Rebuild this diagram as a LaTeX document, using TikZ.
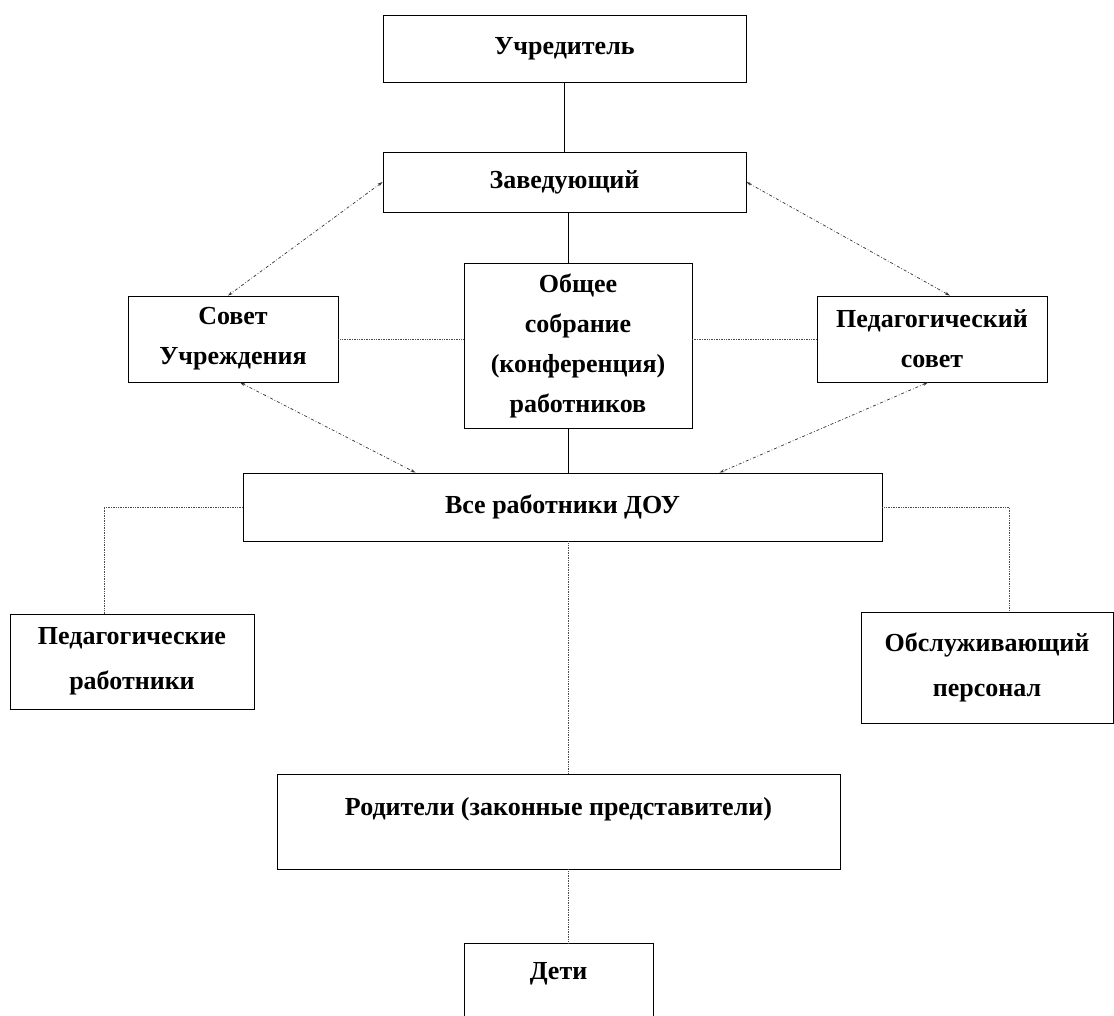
\documentclass[tikz,border=0pt]{standalone}
\usepackage{fontspec}
\setmainfont{Liberation Serif}
\usetikzlibrary{arrows.meta}
\begin{document}
\begin{tikzpicture}[x=1pt,y=-1pt,
  box/.style={draw,line width=0.8pt,align=center,inner sep=0pt,
    font=\bfseries\fontsize{26}{40}\selectfont},
  solidline/.style={line width=0.8pt},
  dotline/.style={line width=0.7pt,densely dotted,black!70},
  dashline/.style={line width=0.7pt,dash dot,black!80,
    {Stealth[length=5pt,width=3pt]}-{Stealth[length=5pt,width=3pt]}}]
\useasboundingbox (0,0) rectangle (1114,1015);
\coordinate (spine) at (568,0);
\node[box,minimum width=363,minimum height=67] (uchr) at (564.5,49) {Учредитель};
\node[box,minimum width=363,minimum height=60] (zav) at (564.5,182) {Заведующий};
\node[box,minimum width=210,minimum height=86] (sovet) at (233,339) {Совет\\Учреждения};
\node[box,minimum width=228,minimum height=165] (obsh) at (578,345.5) {Общее\\собрание\\(конференция)\\работников};
\node[box,minimum width=230,minimum height=86] (pedsov) at (932,339) {Педагогический\\совет};
\node[box,minimum width=639,minimum height=68] (vse) at (562.5,507) {Все работники ДОУ};
\node[box,minimum width=244,minimum height=95,font=\bfseries\fontsize{26}{45}\selectfont] (pedrab) at (132,661.5) {Педагогические\\работники};
\node[box,minimum width=252,minimum height=111,font=\bfseries\fontsize{26}{45}\selectfont] (obsl) at (987,667.5) {Обслуживающий\\персонал};
\node[box,minimum width=563,text height=41,text depth=54] (rod) at (558.5,821.5) {Родители (законные представители)};
\node[box,minimum width=189,text height=36,text depth=90] (deti) at (558.5,1006) {Дети};
% solid links
\draw[solidline] (uchr.south) -- (zav.north);
\draw[solidline] (spine |- zav.south) -- (spine |- obsh.north);
\draw[solidline] (spine |- obsh.south) -- (spine |- vse.north);
% councils
\draw[dashline] (zav.west) -- ([xshift=-5]sovet.north);
\draw[dashline] (zav.east) -- ([xshift=18]pedsov.north);
\draw[dashline] ([xshift=7]sovet.south) -- ([xshift=-147]vse.north);
\draw[dashline] ([xshift=-4]pedsov.south) -- ([xshift=157]vse.north);
\draw[dotline] (sovet.east) -- (sovet.east -| obsh.west);
\draw[dotline] (pedsov.west) -- (pedsov.west -| obsh.east);
% staff and parents
\draw[dotline] (vse.west) -| ([xshift=-28]pedrab.north);
\draw[dotline] (vse.east) -| ([xshift=22]obsl.north);
\draw[dotline] (spine |- vse.south) -- (spine |- rod.north);
\draw[dotline] (spine |- rod.south) -- (spine |- deti.north);
\end{tikzpicture}
\end{document}
